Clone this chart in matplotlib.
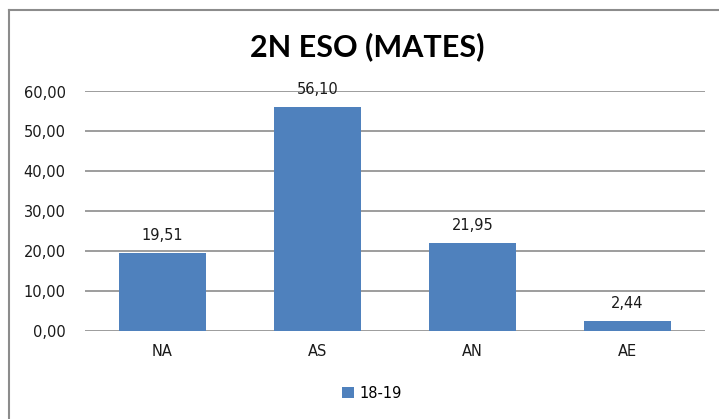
import matplotlib
matplotlib.use("Agg")
import matplotlib.pyplot as plt
from matplotlib.lines import Line2D
from matplotlib.patches import Patch

categories = ["NA", "AS", "AN", "AE"]
values = [19.51, 56.10, 21.95, 2.44]
series_name = "18-19"
title = "2N ESO (MATES)"
yticks = [0, 10, 20, 30, 40, 50, 60]

W, H = 719, 419
fig = plt.figure(figsize=(W / 100, H / 100), dpi=100)
fig.patch.set_facecolor("white")

# outer border (left and top visible)
fig.add_artist(Line2D([8.5 / W, 8.5 / W], [0, 1 - 10.5 / H], transform=fig.transFigure,
                      color="#8c8c8c", lw=1.5))
fig.add_artist(Line2D([8.5 / W, 1], [1 - 10.5 / H, 1 - 10.5 / H], transform=fig.transFigure,
                      color="#8c8c8c", lw=1.5))

ax = fig.add_axes([85 / W, 1 - 330.5 / H, (705 - 85) / W, (330 - 91) / H])
bar_color = "#4f81bd"
x = range(len(categories))
bars = ax.bar(x, values, width=0.56, color=bar_color, zorder=3)
ax.set_xlim(-0.5, len(categories) - 0.5)
ax.set_ylim(0, 60)
ax.set_yticks(yticks)
ax.set_yticklabels([f"{v:.2f}".replace(".", ",") for v in yticks], fontsize=10.5, color="#1a1a1a")
ax.set_xticks(list(x))
ax.set_xticklabels(categories, fontsize=10.5, color="#1a1a1a")
ax.tick_params(axis="both", length=0, pad=14)
ax.tick_params(axis="x", pad=10)
for s in ax.spines.values():
    s.set_visible(False)
ax.yaxis.grid(True, color="#8c8c8c", lw=1.2, zorder=0)
ax.set_axisbelow(True)

for xi, v in zip(x, values):
    ax.annotate(f"{v:.2f}".replace(".", ","), (xi, v), xytext=(0, 7), textcoords="offset points",
                ha="center", va="bottom", fontsize=10.5, color="#1a1a1a")

fig.text(367 / W, 1 - 47 / H, title, ha="center", va="center", fontsize=22,
         fontweight="bold", family="Lato", color="#000000")

handle = Patch(facecolor=bar_color, edgecolor="none")
fig.legend([handle], [series_name], loc="center", bbox_to_anchor=(372 / W, 1 - 393 / H),
           frameon=False, fontsize=10.5, handlelength=0.8, handleheight=0.8, handletextpad=0.4)

fig.savefig("out.png", dpi=100, facecolor="white")
